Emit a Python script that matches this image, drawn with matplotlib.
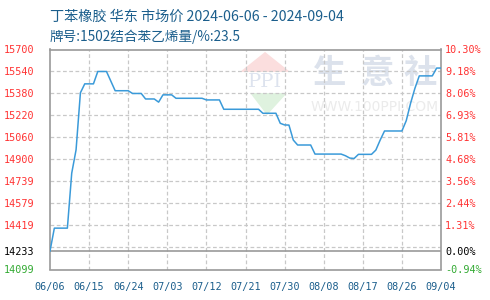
import numpy as np
import pandas as pd
import matplotlib
matplotlib.use('Agg')
import matplotlib.pyplot as plt
from matplotlib.patches import Polygon

plt.rcParams['font.family'] = ['Noto Sans CJK SC', 'DejaVu Sans']

title1 = '丁苯橡胶 华东 市场价 2024-06-06 - 2024-09-04'
title2 = '牌号:1502结合苯乙烯量/%:23.5'

dates = pd.date_range('2024-06-06', '2024-09-04', freq='D')
prices = [14233, 14400, 14400, 14400, 14400, 14800, 14970, 15385, 15450, 15450,
          15450, 15540, 15540, 15540, 15470, 15400, 15400, 15400, 15400, 15380,
          15380, 15380, 15340, 15340, 15340, 15317, 15370, 15370, 15370, 15345,
          15345, 15345, 15345, 15345, 15345, 15345, 15333, 15333, 15333, 15333,
          15265, 15265, 15265, 15265, 15265, 15265, 15265, 15265, 15265, 15236,
          15236, 15236, 15236, 15163, 15151, 15150, 15041, 15005, 15005, 15005,
          15005, 14939, 14939, 14939, 14939, 14939, 14939, 14939, 14927, 14910,
          14907, 14937, 14937, 14937, 14937, 14968, 15041, 15107, 15107, 15107,
          15107, 15107, 15182, 15309, 15418, 15508, 15508, 15508, 15508, 15565,
          15565]

base = 14233
ymin, ymax = 14099, 15700
left_labels = ['14099', '14233', '14419', '14579', '14739', '14900',
               '15060', '15220', '15380', '15540', '15700']
right_labels = ['-0.94%', '0.00%', '1.31%', '2.44%', '3.56%', '4.68%',
                '5.81%', '6.93%', '8.06%', '9.18%', '10.30%']
xtick_labels = ['06/06', '06/15', '06/24', '07/03', '07/12', '07/21',
                '07/30', '08/08', '08/17', '08/26', '09/04']

red = '#ff3333'
green = '#33aa33'
blue_txt = '#1b5e8c'
line_c = '#3a9ad9'
grid_c = '#c8c8c8'
spine_c = '#999999'

fig = plt.figure(figsize=(4.9, 3.0), dpi=100)
ax = fig.add_axes([50 / 490, 1 - 269.5 / 300, 391 / 490, 220 / 300])

x = np.arange(len(prices))
ax.plot(x, prices, color=line_c, lw=1.1, zorder=5)
ax.set_xlim(0, len(prices) - 1)
ax.set_ylim(ymin, ymax)

# evenly spaced dashed grid
step = (ymax - ymin) / 10
for k in range(1, 10):
    ax.axhline(ymin + k * step, color=grid_c, lw=0.9, ls=(0, (3, 2)), zorder=1)
xt = np.arange(0, len(prices), 9)
for v in xt[1:-1]:
    ax.axvline(v, color=grid_c, lw=0.9, ls=(0, (3, 2)), zorder=1)
ax.axhline(base, color=spine_c, lw=1.2, zorder=2)

# left axis
ytick_pos = [ymin, base] + [ymin + k * step for k in range(2, 11)]
ax.set_yticks(ytick_pos)
ax.set_yticklabels(left_labels, family='DejaVu Sans Mono', fontsize=7.3)
for i, t in enumerate(ax.get_yticklabels()):
    t.set_color(green if i == 0 else ('black' if i == 1 else red))
ax.tick_params(axis='y', length=0, pad=11)

ax.set_xticks(xt)
ax.set_xticklabels(xtick_labels, family='DejaVu Sans Mono', fontsize=7.3, color=blue_txt)
ax.tick_params(axis='x', length=0, pad=9)

for s in ax.spines.values():
    s.set_color(spine_c)
    s.set_linewidth(1.2)

# right axis
ax2 = ax.twinx()
ax2.set_ylim(ymin, ymax)
ax2.set_yticks(ytick_pos)
ax2.set_yticklabels(right_labels, family='DejaVu Sans Mono', fontsize=7.3)
for i, t in enumerate(ax2.get_yticklabels()):
    t.set_color(green if i == 0 else ('black' if i == 1 else red))
ax2.tick_params(axis='y', length=0, pad=3)
for s in ax2.spines.values():
    s.set_visible(False)

# watermark
for cx, ch in zip([0.716, 0.838, 0.946], '生意社'):
    ax.text(cx, 0.89, ch, transform=ax.transAxes, fontsize=24,
            color='#dce2ec', ha='center', va='center', fontweight='bold',
            zorder=0, clip_on=True)
ax.text(0.831, 0.74, 'WWW.100PPI.COM', transform=ax.transAxes, fontsize=10,
        color='#ebebeb', ha='center', va='center', family='DejaVu Sans',
        zorder=0, clip_on=True)
ax.add_patch(Polygon([[0.486, 0.898], [0.550, 0.989], [0.614, 0.898]], closed=True,
                     transform=ax.transAxes, color='#fbdede', lw=0, zorder=0))
ax.add_patch(Polygon([[0.512, 0.802], [0.555, 0.702], [0.606, 0.802]], closed=True,
                     transform=ax.transAxes, color='#dff2df', lw=0, zorder=0))
ax.text(0.550, 0.852, 'PPI', transform=ax.transAxes, fontsize=14,
        color='#dde3ee', ha='center', va='center', family='DejaVu Serif',
        zorder=0, clip_on=True)

fig.text(50 / 490, 1 - 17 / 300, title1, fontsize=10.2, color=blue_txt, va='center')
fig.text(50 / 490, 1 - 37 / 300, title2, fontsize=9.8, color=blue_txt, va='center')

fig.savefig('out.png', dpi=100)
